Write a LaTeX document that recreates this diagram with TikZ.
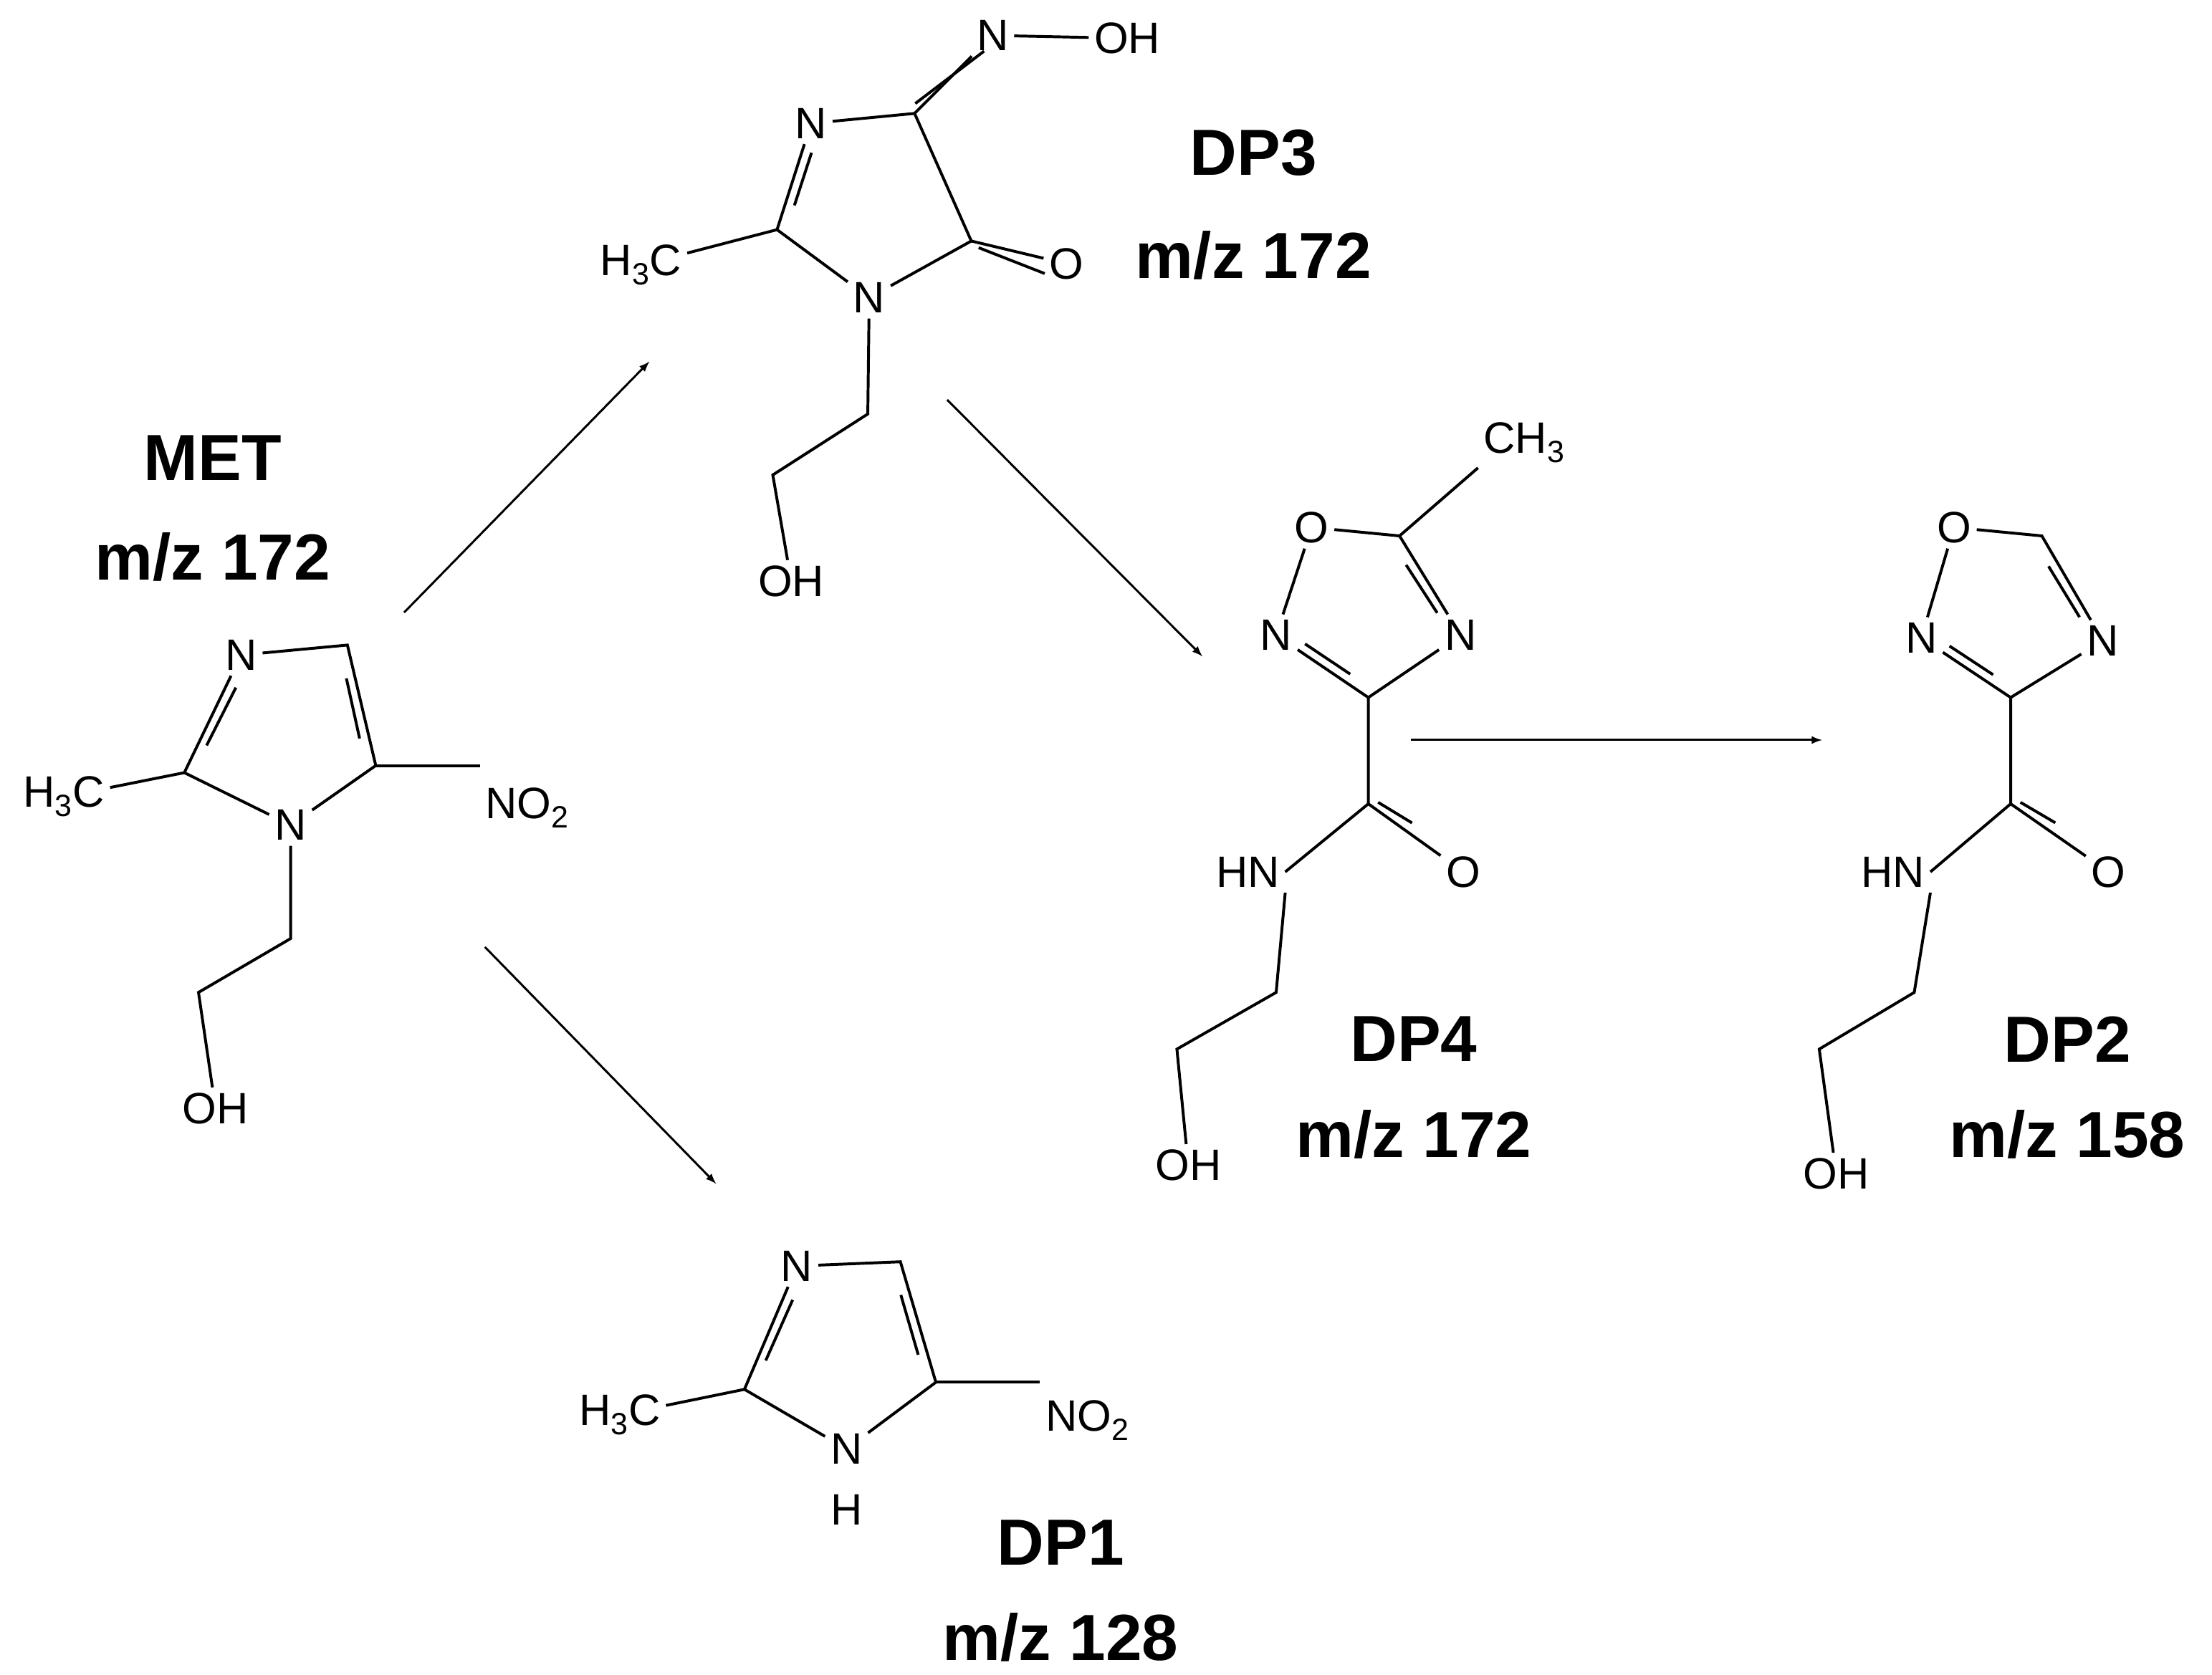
\documentclass[tikz,border=0pt]{standalone}
\usepackage{fontspec}
\setmainfont{Liberation Sans}
\usetikzlibrary{calc}
\begin{document}
\begin{tikzpicture}[x=1pt,y=-1pt,line width=2pt,
  atom/.style={font=\fontsize{31}{31}\selectfont,inner sep=3pt},
  ttl/.style={font=\fontsize{46}{46}\selectfont\bfseries},
  arr/.style={-latex,line width=1.5pt}]
\useasboundingbox (0,0) rectangle (1560,1181);
\newcommand{\dbl}[3]{\draw ($(#1)!0.22!(#2)!7pt!(#3)$) -- ($(#2)!0.22!(#1)!7pt!(#3)$);}
% ---------- MET
\node[ttl] (t1) at (150,323) {MET};
\node[ttl] (t1b) at (150,393) {m/z 172};
\node[atom] (m3) at (170,462) {N};
\coordinate (m4) at (245,455);
\coordinate (m5) at (265,540);
\node[atom] (m1) at (205,582) {N};
\coordinate (m2) at (130,545);
\coordinate (mc) at (202,518);
\node[atom] (mme) at (45,562) {H\textsubscript{3}C};
\node[atom] (mno) at (372,570) {NO\textsubscript{2}};
\coordinate (ma) at (205,662);
\coordinate (mb) at (140,700);
\node[atom] (moh) at (152,782) {OH};
\draw (m3) -- (m4) -- (m5) -- (m1) -- (m2) -- (m3);
\dbl{m2}{m3}{mc}\dbl{m4}{m5}{mc}
\draw (m2) -- (mme); \draw (m5) -- (mno.west|-m5);
\draw (m1) -- (ma) -- (mb) -- (moh);
% ---------- DP3
\node[ttl] (t3) at (884,108) {DP3};
\node[ttl] (t3b) at (884,180) {m/z 172};
\node[atom] (d3) at (572,87) {N};
\coordinate (d4) at (645,80);
\coordinate (d5) at (685,170);
\node[atom] (d1) at (613,210) {N};
\coordinate (d2) at (548,162);
\coordinate (dc) at (615,140);
\node[atom] (dme) at (452,187) {H\textsubscript{3}C};
\node[atom] (dn) at (700,25) {N};
\node[atom] (doh) at (795,27) {OH};
\node[atom] (do) at (752,186) {O};
\coordinate (dcn) at (650,10);
\coordinate (dco) at (740,220);
\coordinate (da) at (612,292);
\coordinate (db) at (545,335);
\node[atom] (doh2) at (558,410) {OH};
\draw (d3) -- (d4) -- (d5) -- (d1) -- (d2) -- (d3);
\dbl{d2}{d3}{dc}
\draw (d4) -- (dn); \draw ($(d4)!7pt!(dcn)$) -- ($(dn.south)!7pt!(dcn)$);
\draw (dn) -- (doh);
\draw (d5) -- (do); \draw ($(d5)!7pt!(dco)$) -- ($(do.west)!7pt!(dco)$);
\draw (d2) -- (dme);
\draw (d1) -- (da) -- (db) -- (doh2);
% ---------- DP4
\node[ttl] (t4) at (997,733) {DP4};
\node[ttl] (t4b) at (997,800) {m/z 172};
\node[atom] (p1) at (925,372) {O};
\coordinate (p5) at (987,378);
\node[atom] (p4) at (1030,448) {N};
\coordinate (p3) at (965,492);
\node[atom] (p2) at (900,448) {N};
\coordinate (pc) at (962,430);
\node[atom] (pme) at (1075,312) {CH\textsubscript{3}};
\coordinate (pk) at (965,567);
\node[atom] (po) at (1032,615) {O};
\node[atom] (pn) at (880,615) {HN};
\coordinate (pco) at (1010,560);
\coordinate (pa) at (900,700);
\coordinate (pb) at (830,740);
\node[atom] (poh) at (838,822) {OH};
\draw (p1) -- (p5) -- (p4) -- (p3) -- (p2) -- (p1);
\dbl{p5}{p4}{pc}\dbl{p3}{p2}{pc}
\draw (p5) -- (pme.west|-1045,330);
\draw (p3) -- (pk) -- (po); \draw ($(pk)!7pt!(pco)$) -- ($(po)!0.6!(pk)!7pt!(pco)$);
\draw (pk) -- (pn.east); \draw (pn.south east) -- (pa) -- (pb) -- (poh);
% ---------- DP2
\node[ttl] (t2) at (1458,733) {DP2};
\node[ttl] (t2b) at (1458,800) {m/z 158};
\node[atom] (q1) at (1378,372) {O};
\coordinate (q5) at (1440,378);
\node[atom] (q4) at (1483,452) {N};
\coordinate (q3) at (1418,492);
\node[atom] (q2) at (1355,450) {N};
\coordinate (qc) at (1415,432);
\coordinate (qk) at (1418,567);
\node[atom] (qo) at (1487,615) {O};
\node[atom] (qn) at (1335,615) {HN};
\coordinate (qco) at (1463,560);
\coordinate (qa) at (1350,700);
\coordinate (qb) at (1283,740);
\node[atom] (qoh) at (1295,828) {OH};
\draw (q1) -- (q5) -- (q4) -- (q3) -- (q2) -- (q1);
\dbl{q5}{q4}{qc}\dbl{q3}{q2}{qc}
\draw (q3) -- (qk) -- (qo); \draw ($(qk)!7pt!(qco)$) -- ($(qo)!0.6!(qk)!7pt!(qco)$);
\draw (qk) -- (qn.east); \draw (qn.south east) -- (qa) -- (qb) -- (qoh);
% ---------- DP1
\node[ttl] (t5) at (748,1088) {DP1};
\node[ttl] (t5b) at (748,1155) {m/z 128};
\node[atom] (r3) at (562,893) {N};
\coordinate (r4) at (635,890);
\coordinate (r5) at (660,975);
\node[atom] (r1) at (597,1022) {N};
\node[atom] (rh) at (597,1065) {H};
\coordinate (r2) at (525,980);
\coordinate (rc) at (595,950);
\node[atom] (rme) at (437,998) {H\textsubscript{3}C};
\node[atom] (rno) at (767,1002) {NO\textsubscript{2}};
\draw (r3) -- (r4) -- (r5) -- (r1) -- (r2) -- (r3);
\dbl{r2}{r3}{rc}\dbl{r4}{r5}{rc}
\draw (r2) -- (rme); \draw (r5) -- (rno.west|-r5);
% ---------- arrows
\coordinate (a1) at (285,432); \coordinate (a2) at (458,255);
\coordinate (b1) at (668,282); \coordinate (b2) at (848,463);
\coordinate (c1) at (995,522); \coordinate (c2) at (1285,522);
\coordinate (e1) at (342,668); \coordinate (e2) at (505,835);
\draw[arr] (a1) -- (a2);
\draw[arr] (b1) -- (b2);
\draw[arr] (c1) -- (c2);
\draw[arr] (e1) -- (e2);
\end{tikzpicture}
\end{document}
